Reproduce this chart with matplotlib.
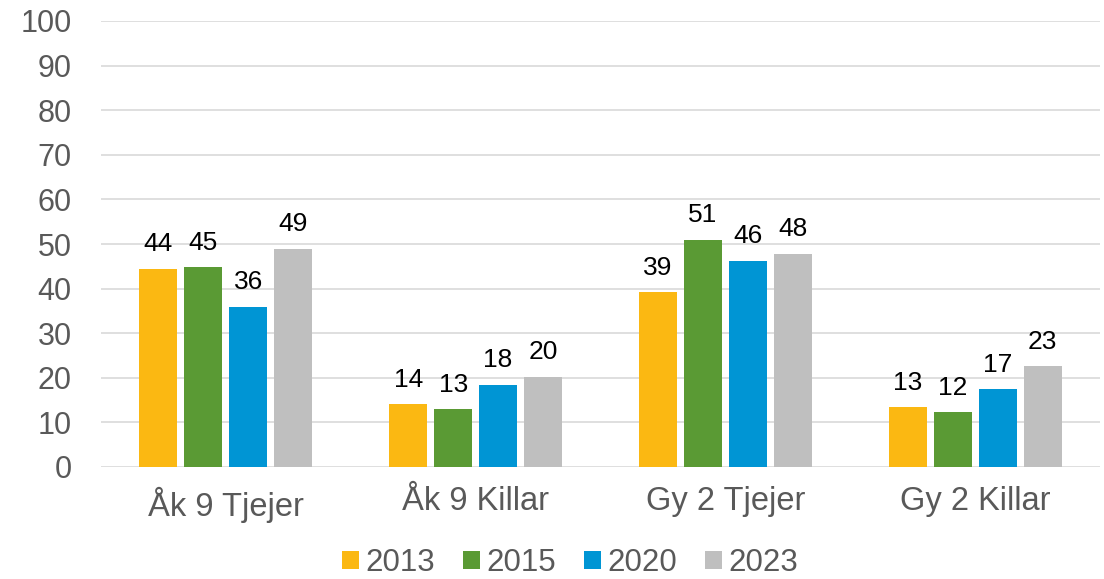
import matplotlib.pyplot as plt
import numpy as np

plt.rcParams['font.family'] = ['Liberation Sans', 'DejaVu Sans']

groups = ["Åk 9 Tjejer", "Åk 9 Killar", "Gy 2 Tjejer", "Gy 2 Killar"]
years = ["2013", "2015", "2020", "2023"]
v2013 = [44.4, 14.1, 39.2, 13.4]
v2015 = [44.8, 13.0, 50.9, 12.3]
v2020 = [35.9, 18.4, 46.2, 17.4]
v2023 = [48.9, 20.2, 47.8, 22.6]
colors = ["#FBB812", "#5A9A34", "#0095D4", "#BFBFBF"]

fig = plt.figure(figsize=(11.04, 5.79), dpi=100)
ax = fig.add_axes([101/1104, 1-467/579, 999/1104, 446/579])

x = np.arange(len(groups))
w = 0.152
step = 0.18
for i, (vals, c, yr) in enumerate(zip([v2013, v2015, v2020, v2023], colors, years)):
    bars = ax.bar(x + (i - 1.5)*step, vals, w, color=c, label=yr, zorder=3)
    ax.bar_label(bars, labels=[f"{v:.0f}" for v in vals], padding=9, fontsize=19, color="black")

ax.set_ylim(0, 100)
ax.set_xlim(-0.5, 3.5)
ax.set_yticks(range(0, 101, 10))
ax.set_xticks(x)
ax.set_xticklabels(groups)
ax.tick_params(axis='y', length=0, pad=21, labelsize=22, labelcolor="#595959")
ax.tick_params(axis='x', length=0, pad=14, labelsize=23.5, labelcolor="#595959")
ax.grid(axis='y', color="#D9D9D9", linewidth=1.2, zorder=0)
for s in ax.spines.values():
    s.set_visible(False)

handles, labels = ax.get_legend_handles_labels()
fig.legend(handles, labels, loc='center', bbox_to_anchor=(570/1104, 1-563/579), ncol=4, frameon=False,
           fontsize=22.5, handlelength=0.55, handleheight=0.55, handletextpad=0.2,
           columnspacing=0.9, labelcolor="#595959", borderpad=0)

fig.savefig("out.png", dpi=100)
